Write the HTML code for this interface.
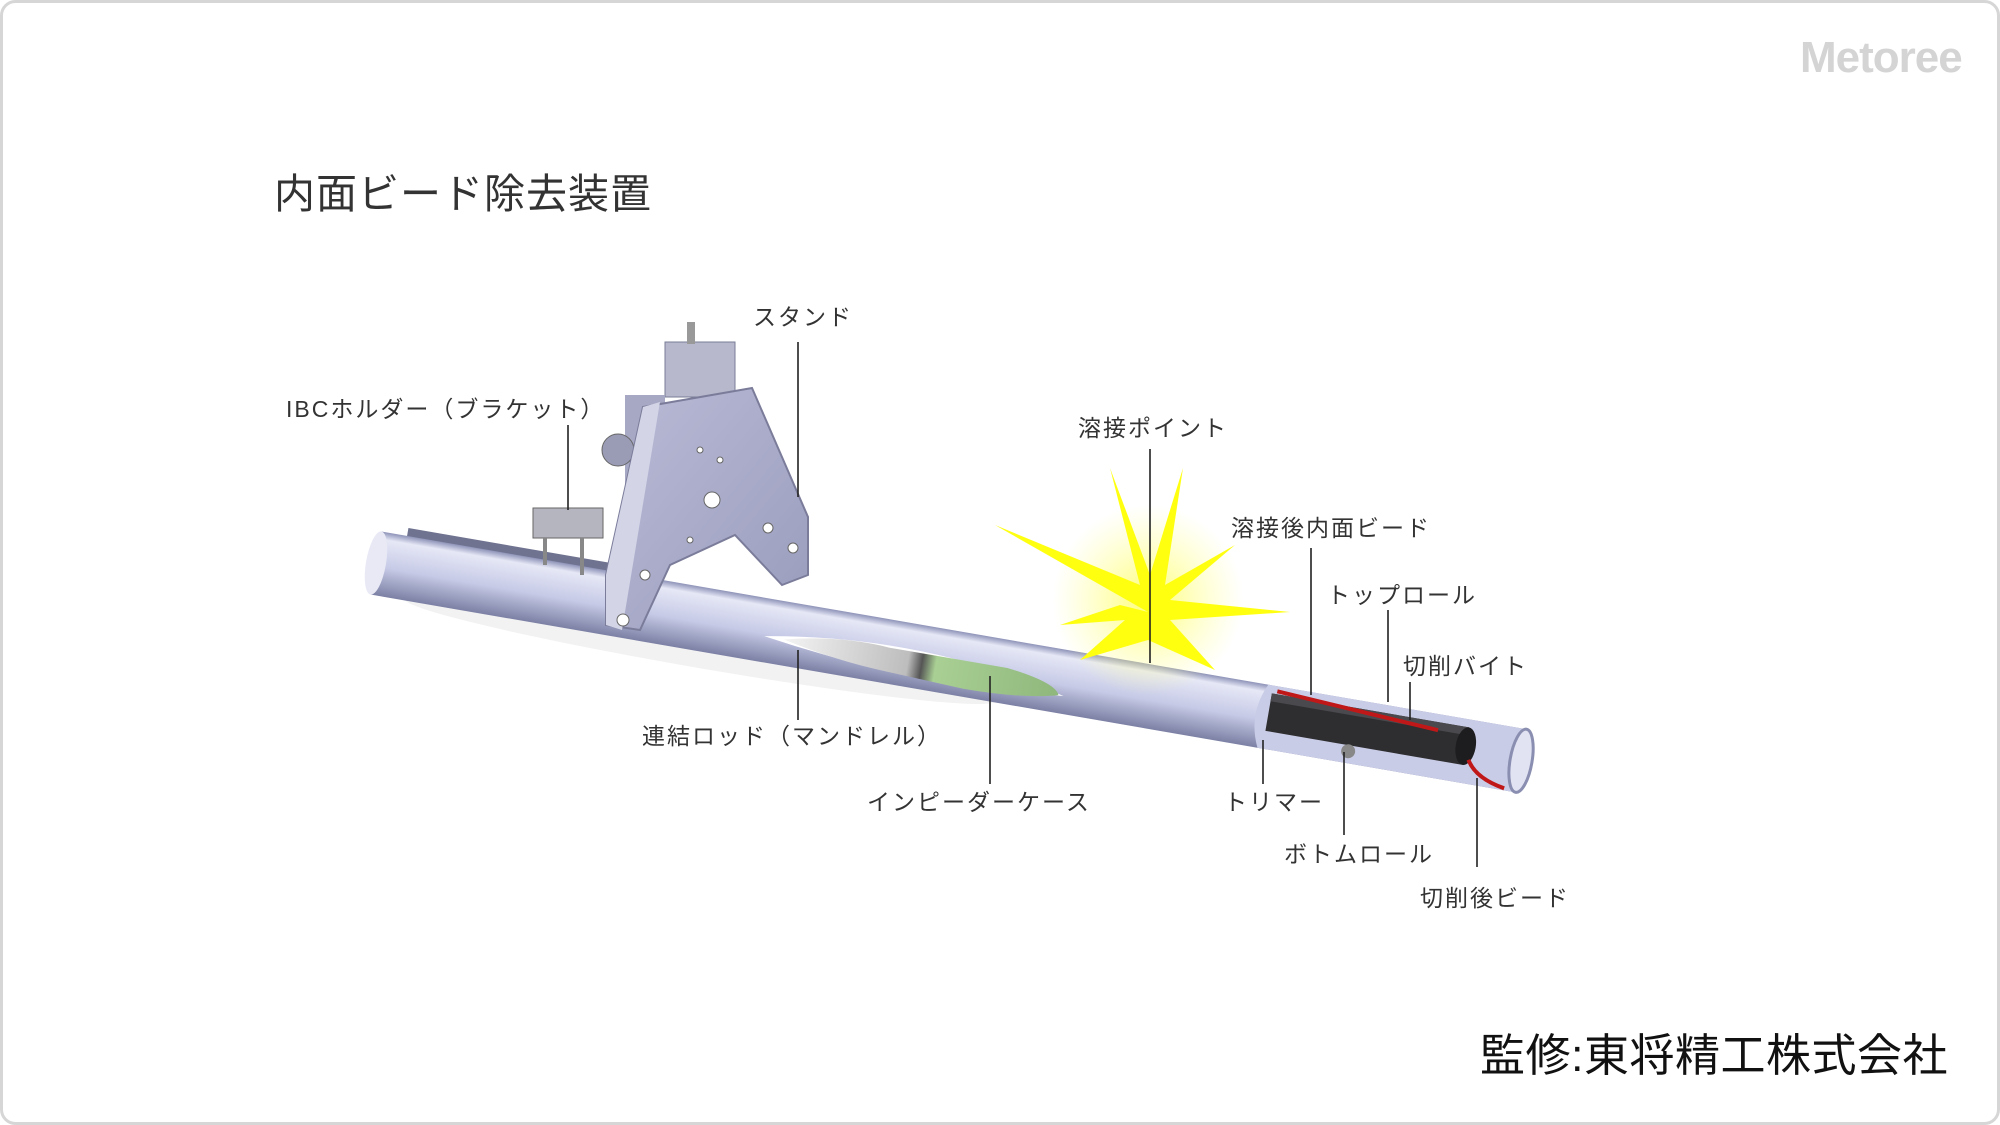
<!DOCTYPE html>
<html><head><meta charset="utf-8"><style>
html,body{margin:0;padding:0;background:#fff;}
svg{display:block;}
text{font-family:"Liberation Sans","Noto Sans CJK JP",sans-serif;}
.l{font-size:23px;fill:#333;letter-spacing:2px;}
.ln{stroke:#222;stroke-width:1.6;}
</style></head><body>
<svg width="2000" height="1125" viewBox="0 0 2000 1125" xmlns="http://www.w3.org/2000/svg">
<defs>
<linearGradient id="pg" x1="0" y1="0" x2="0" y2="1">
<stop offset="0" stop-color="#8e93b8"/><stop offset="0.12" stop-color="#e6e8f6"/><stop offset="0.55" stop-color="#c6cae6"/><stop offset="1" stop-color="#7c80a4"/>
</linearGradient>
<linearGradient id="sg" x1="0" y1="0" x2="1" y2="1">
<stop offset="0" stop-color="#b9bbd6"/><stop offset="1" stop-color="#9a9cbd"/>
</linearGradient>
<radialGradient id="glow"><stop offset="0" stop-color="#ffff66" stop-opacity="0.9"/><stop offset="1" stop-color="#ffff99" stop-opacity="0"/></radialGradient>
<linearGradient id="mg" x1="0" y1="0" x2="1" y2="0"><stop offset="0" stop-color="#f4f4f4"/><stop offset="0.45" stop-color="#bdbdbd"/><stop offset="0.5" stop-color="#555"/><stop offset="0.55" stop-color="#a9cf94"/><stop offset="1" stop-color="#8fb77c"/></linearGradient>
</defs>
<rect x="1.5" y="1.5" width="1997" height="1122" rx="14" fill="#fff" stroke="#d6d6d6" stroke-width="3"/>
<text x="1800" y="72" font-size="44" fill="#d4d4d4" font-weight="bold" letter-spacing="-1">Metoree</text>
<text x="274" y="208" font-size="41" fill="#333" letter-spacing="1">内面ビード除去装置</text>

<ellipse cx="700" cy="650" rx="300" ry="18" fill="#000" opacity="0.05" transform="rotate(9.8 700 650)"/>
<g transform="translate(376,563) rotate(9.8)">
<rect x="26" y="-40" width="230" height="10" fill="#6f7390"/>
<rect x="0" y="-32" width="1162" height="64" fill="url(#pg)"/>
<ellipse cx="0" cy="0" rx="10" ry="32" fill="#e8e9f5"/>
<path d="M395,6 Q550,-22 700,14 Q550,30 395,6Z" fill="#fff"/>
<path d="M415,6 Q470,-8 520,-4 L640,-4 Q690,2 695,14 Q660,24 600,24 L520,20 Q470,18 415,6Z" fill="url(#mg)"/>
<path d="M900,-32 L1162,-32 L1162,32 L900,32 Q885,0 900,-32Z" fill="#c9cce6"/>
<rect x="905" y="-24" width="200" height="38" fill="#2e2e30"/>
<rect x="905" y="-24" width="200" height="8" fill="#4a4a4e"/>
<ellipse cx="1105" cy="-5" rx="10" ry="19" fill="#1d1d1f"/>
<path d="M910,-27 L1075,-16" stroke="#c01818" stroke-width="4"/>
<path d="M1110,8 Q1120,25 1150,30" stroke="#c01818" stroke-width="4" fill="none"/>
<circle cx="990" cy="20" r="7" fill="#888"/>
<ellipse cx="1162" cy="0" rx="11" ry="32" fill="#e1e3f3" stroke="#8a8eb0" stroke-width="3"/>
</g>

<rect x="533" y="508" width="70" height="30" fill="#b5b5c0" stroke="#666" />
<line x1="545" y1="538" x2="545" y2="565" stroke="#888" stroke-width="4"/>
<line x1="582" y1="538" x2="582" y2="575" stroke="#888" stroke-width="4"/>
<rect x="665" y="342" width="70" height="55" fill="#b7b8cc" stroke="#7a7c96"/>
<rect x="687" y="322" width="8" height="22" fill="#999"/>
<rect x="625" y="395" width="40" height="110" fill="#a7a9c4"/>
<circle cx="618" cy="450" r="16" fill="#9a9cb6" stroke="#666"/>
<polygon points="643,407 752,388 808,517 808,575 782,585 735,535 670,565 640,630 606,625 606,575" fill="url(#sg)" stroke="#7a7c9a" stroke-width="2"/>
<polygon points="643,407 660,402 622,630 606,625 606,575" fill="#d3d4e6"/>
<g fill="#fff" stroke="#666" stroke-width="1"><circle cx="712" cy="500" r="8"/><circle cx="768" cy="528" r="5"/><circle cx="793" cy="548" r="5"/><circle cx="645" cy="575" r="5"/><circle cx="623" cy="620" r="6"/><circle cx="700" cy="450" r="3"/><circle cx="720" cy="460" r="3"/><circle cx="690" cy="540" r="3"/></g>

<circle cx="1148" cy="600" r="95" fill="url(#glow)"/>
<polygon fill="#ffff10" points="1148,612 995,525 1140,585 1110,468 1150,575 1183,468 1165,585 1235,545 1170,600 1290,612 1170,620 1215,670 1148,640 1080,660 1125,620 1060,625 1120,605" />

<line class="ln" x1="798" y1="342" x2="798" y2="497"/>
<line class="ln" x1="568" y1="425" x2="568" y2="510"/>
<line class="ln" x1="1150" y1="449" x2="1150" y2="663"/>
<line class="ln" x1="1311" y1="548" x2="1311" y2="695"/>
<line class="ln" x1="1388" y1="610" x2="1388" y2="702"/>
<line class="ln" x1="1410" y1="682" x2="1410" y2="720"/>
<line class="ln" x1="798" y1="650" x2="798" y2="720"/>
<line class="ln" x1="990" y1="676" x2="990" y2="784"/>
<line class="ln" x1="1263" y1="740" x2="1263" y2="784"/>
<line class="ln" x1="1344" y1="752" x2="1344" y2="835"/>
<line class="ln" x1="1477" y1="778" x2="1477" y2="867"/>

<text class="l" x="753" y="325">スタンド</text>
<text class="l" x="286" y="417">IBCホルダー（ブラケット）</text>
<text class="l" x="1078" y="436">溶接ポイント</text>
<text class="l" x="1231" y="536">溶接後内面ビード</text>
<text class="l" x="1327" y="603">トップロール</text>
<text class="l" x="1403" y="674">切削バイト</text>
<text class="l" x="642" y="744">連結ロッド（マンドレル）</text>
<text class="l" x="867" y="810">インピーダーケース</text>
<text class="l" x="1224" y="810">トリマー</text>
<text class="l" x="1284" y="862">ボトムロール</text>
<text class="l" x="1420" y="906">切削後ビード</text>

<text x="1480" y="1071" font-size="45" fill="#111" letter-spacing="0.5">監修:東将精工株式会社</text>
</svg>
</body></html>
